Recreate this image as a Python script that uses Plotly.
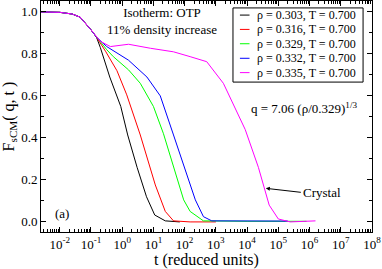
import plotly.graph_objects as go

# Shared early-time decay (all densities overlap)
t_common = [0.0025, 0.01, 0.025, 0.045, 0.1, 0.15]
f_common = [1.0, 0.998, 0.99, 0.975, 0.915, 0.88]

labels = ["ρ = 0.303, T = 0.700", "ρ = 0.316, T = 0.700", "ρ = 0.329, T = 0.700",
          "ρ = 0.332, T = 0.700", "ρ = 0.335, T = 0.700"]
colors = ["#000000", "#ff0000", "#00ff00", "#0000ff", "#ff00ff"]

t_303 = [0.2, 0.4, 0.9, 1.5, 3.0, 6.0, 11.0, 24.0, 70.0]
f_303 = [0.83, 0.69, 0.55, 0.414, 0.26, 0.12, 0.033, 0.005, 0.0]

t_316 = [0.3, 0.68, 1.4, 3.8, 11.5, 24.0, 44.0, 150.0, 1000.0]
f_316 = [0.81, 0.72, 0.605, 0.414, 0.176, 0.05, 0.005, 0.0, 0.0]

t_329 = [0.32, 0.52, 1.6, 3.8, 10.0, 21.0, 44.0, 93.0, 150.0, 400.0, 1e4, 8e5]
f_329 = [0.82, 0.787, 0.724, 0.66, 0.55, 0.42, 0.26, 0.105, 0.05, 0.005, 0.003, 0.003]

t_332 = [0.32, 1.6, 6.2, 16.6, 44.0, 150.0, 220.0, 400.0, 740.0, 2e5]
f_332 = [0.835, 0.77, 0.69, 0.6, 0.414, 0.176, 0.105, 0.025, 0.005, 0.004]

t_335 = [0.2, 0.42, 1.6, 8.0, 44.0, 150.0, 510.0, 1740.0, 8700.0, 23000.0, 51000.0, 1e5, 2.4e5, 1.55e6]
f_335 = [0.86, 0.835, 0.846, 0.827, 0.81, 0.787, 0.763, 0.66, 0.44, 0.26, 0.08, 0.014, 0.0, 0.005]

x_tick_vals = [1e-2, 1e-1, 1e0, 1e1, 1e2, 1e3, 1e4, 1e5, 1e6, 1e7, 1e8]
x_tick_text = ["10<sup>-2</sup>", "10<sup>-1</sup>", "10<sup>0</sup>", "10<sup>1</sup>", "10<sup>2</sup>",
               "10<sup>3</sup>", "10<sup>4</sup>", "10<sup>5</sup>", "10<sup>6</sup>", "10<sup>7</sup>",
               "10<sup>8</sup>"]

series_t = [t_303, t_316, t_329, t_332, t_335]
series_f = [f_303, f_316, f_329, f_332, f_335]

serif = "Liberation Serif, Times New Roman, serif"

fig = go.Figure()
for lab, col, ts, fs in zip(labels, colors, series_t, series_f):
    fig.add_trace(go.Scatter(x=t_common + ts, y=f_common + fs, mode="lines", name=lab,
                             line=dict(color=col, width=1), showlegend=False))

axis_common = dict(showline=True, linecolor="black", linewidth=1, mirror="ticks",
                   ticks="inside", ticklen=5, tickcolor="black", showgrid=False,
                   zeroline=False, automargin=False,
                   tickfont=dict(family=serif, size=13, color="black"))

fig.update_xaxes(type="log", range=[-2.6, 8], tickvals=x_tick_vals, ticktext=x_tick_text,
                 title=dict(text="t (reduced units)", font=dict(family=serif, size=16, color="black"), standoff=4),
                 minor=dict(ticks="inside", ticklen=3, dtick="D1", tickcolor="black"),
                 **axis_common)
fig.update_yaxes(range=[-0.048, 1.052], dtick=0.2, tickformat=".1f",
                 title=dict(text="F<sub>sCM</sub>( q, t )", font=dict(family=serif, size=16, color="black"), standoff=6),
                 minor=dict(ticks="inside", ticklen=3, dtick=0.1, tickcolor="black"),
                 **axis_common)

# Legend box (drawn manually to match compact spacing)
fig.add_shape(type="rect", xref="paper", yref="paper", x0=0.580, x1=0.973, y0=0.649, y1=0.970,
              line=dict(color="black", width=1), fillcolor="white", layer="above")
row_y = [0.939, 0.877, 0.815, 0.752, 0.690]
for lab, col, yy in zip(labels, colors, row_y):
    fig.add_shape(type="line", xref="paper", yref="paper", x0=0.601, x1=0.630, y0=yy, y1=yy,
                  line=dict(color=col, width=1), layer="above")
    fig.add_annotation(x=0.648, y=yy, xref="paper", yref="paper", xanchor="left", yanchor="middle",
                       text=lab, showarrow=False, font=dict(family=serif, size=12, color="black"))

fig.add_annotation(x=0.192, y=0.99, xref="paper", yref="paper", xanchor="left", yanchor="top",
                   text="Isotherm: OTP<br>11% density increase", showarrow=False, align="center",
                   font=dict(family=serif, size=13, color="black"))
fig.add_annotation(x=0.962, y=0.535, xref="paper", yref="paper", xanchor="right", yanchor="middle",
                   text="q = 7.06 (ρ/0.329)<sup>1/3</sup>", showarrow=False,
                   font=dict(family=serif, size=13, color="black"))
fig.add_annotation(x=0.035, y=0.08, xref="paper", yref="paper", xanchor="left", yanchor="middle",
                   text="(a)", showarrow=False, font=dict(family=serif, size=13, color="black"))
fig.add_annotation(x=4.6, y=0.16, xref="x", yref="y", text="Crystal", showarrow=True,
                   ax=35, ay=4, axref="pixel", ayref="pixel", xanchor="left",
                   arrowhead=2, arrowsize=0.8, arrowwidth=1, arrowcolor="black", standoff=0,
                   font=dict(family=serif, size=13, color="black"))

fig.update_layout(width=382, height=269, margin=dict(l=41, r=10, t=1, b=37),
                  plot_bgcolor="white", paper_bgcolor="white", showlegend=False)

fig.write_html("out.html", config={"displayModeBar": False},
               post_script="document.body.style.margin='0';document.body.style.overflow='hidden';")
